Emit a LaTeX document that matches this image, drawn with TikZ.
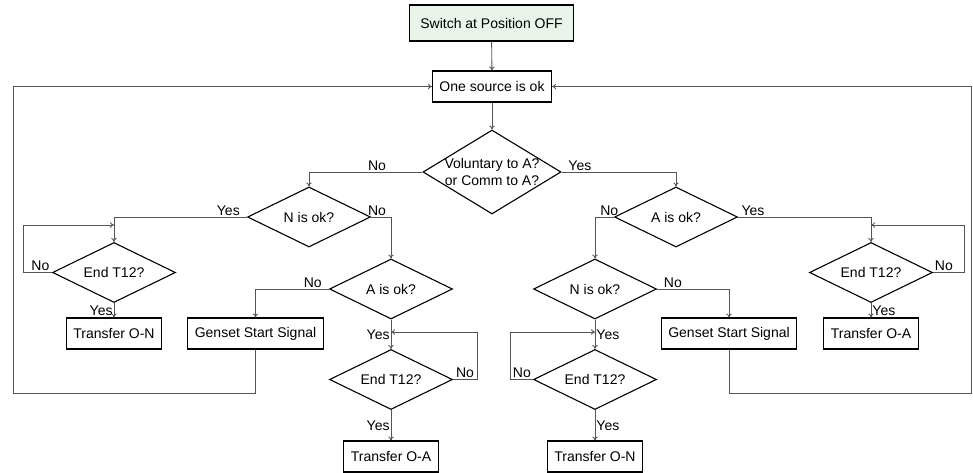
\documentclass[tikz,border=0pt]{standalone}
\usepackage{fontspec}
\setmainfont{Liberation Sans}
\usetikzlibrary{shapes.geometric,arrows.meta}
\definecolor{startgreen}{RGB}{233,243,233}
\definecolor{linegray}{RGB}{85,85,85}
\begin{document}
\begin{tikzpicture}[x=1pt,y=-1pt,font=\fontsize{14}{17}\selectfont,
  box/.style={draw,line width=1.1pt,minimum height=31pt,inner xsep=7pt},
  decision/.style={draw,diamond,aspect=2,line width=1.1pt,inner sep=0pt,minimum width=123pt,minimum height=60pt},
  flow/.style={draw=linegray,line width=.9pt,-{To[length=4pt,width=5.5pt]}},
  lab/.style={inner sep=1pt}]
  \useasboundingbox (0,0) rectangle (973,473);
  \node[box,fill=startgreen,minimum height=36pt,inner xsep=10.5pt] (start) at (491.5,23) {Switch at Position OFF};
  \node[box] (src) at (492,86.5) {One source is ok};
  \node[decision,minimum width=138pt,minimum height=84pt,
    label={[align=center,lab]center:Voluntary to A?\\or Comm to A?}] (vol) at (492,172) {};
  % left branch
  \node[decision] (nokL) at (309,217) {N is ok?};
  \node[decision] (endL) at (114,272.5) {End T12?};
  \node[box] (toNL) at (114,333.5) {Transfer O-N};
  \node[decision] (aokL) at (391,289) {A is ok?};
  \node[box] (genL) at (255.5,333.5) {Genset Start Signal};
  \node[decision] (endLM) at (391,379.5) {End T12?};
  \node[box] (toAL) at (391,456.5) {Transfer O-A};
  % right branch
  \node[decision] (aokR) at (676,217) {A is ok?};
  \node[decision] (endR) at (871,272.5) {End T12?};
  \node[box] (toAR) at (871,333.5) {Transfer O-A};
  \node[decision] (nokR) at (595,289) {N is ok?};
  \node[box] (genR) at (729,333.5) {Genset Start Signal};
  \node[decision] (endRM) at (595,379.5) {End T12?};
  \node[box] (toNR) at (595,456.5) {Transfer O-N};
  \path (114,225) coordinate (jL) (391,332) coordinate (jLM) (871,225) coordinate (jR) (595,332) coordinate (jRM)
    (13,393) coordinate (loopL) (971,393) coordinate (loopR);
  \draw[flow] (start) -- (src);
  \draw[flow] (src) -- (vol);
  \draw[flow] (vol.west) -| (nokL.north) node[pos=.2,above,lab]{No};
  \draw[flow] (vol.east) -| (aokR.north) node[pos=.08,above,lab]{Yes};
  \draw[flow] (nokL.west) -| (endL.north) node[pos=.07,above,lab]{Yes};
  \draw[flow] (nokL.east) -| (aokL.north) node[pos=.15,above,lab]{No};
  \draw[flow] (endL.west) -- ++(-29,0) node[pos=.4,above,lab]{No} |- (jL);
  \draw[flow] (endL.south) -- (toNL.north) node[midway,left,lab]{Yes};
  \draw[flow] (aokL.west) -| (genL.north) node[pos=.11,above,lab]{No};
  \draw[flow] (aokL.south) -- (endLM.north) node[midway,left,lab]{Yes};
  \draw[flow] (endLM.east) -- ++(24,0) node[pos=.5,above,lab]{No} |- (jLM);
  \draw[flow] (endLM.south) -- (toAL.north) node[midway,left,lab]{Yes};
  \draw[flow] (genL.south) |- (loopL) |- (src.west);
  \draw[flow] (aokR.west) -| (nokR.north) node[pos=.125,above,lab]{No};
  \draw[flow] (aokR.east) -| (endR.north) node[pos=.056,above,lab]{Yes};
  \draw[flow] (endR.east) -- ++(31,0) node[pos=.35,above,lab]{No} |- (jR);
  \draw[flow] (endR.south) -- (toAR.north) node[midway,right,lab]{Yes};
  \draw[flow] (nokR.east) -| (genR.north) node[pos=.11,above,lab]{No};
  \draw[flow] (nokR.south) -- (endRM.north) node[midway,right,lab]{Yes};
  \draw[flow] (endRM.west) -- ++(-23,0) node[pos=.48,above,lab]{No} |- (jRM);
  \draw[flow] (endRM.south) -- (toNR.north) node[midway,right,lab]{Yes};
  \draw[flow] (genR.south) |- (loopR) |- (src.east);
\end{tikzpicture}
\end{document}
